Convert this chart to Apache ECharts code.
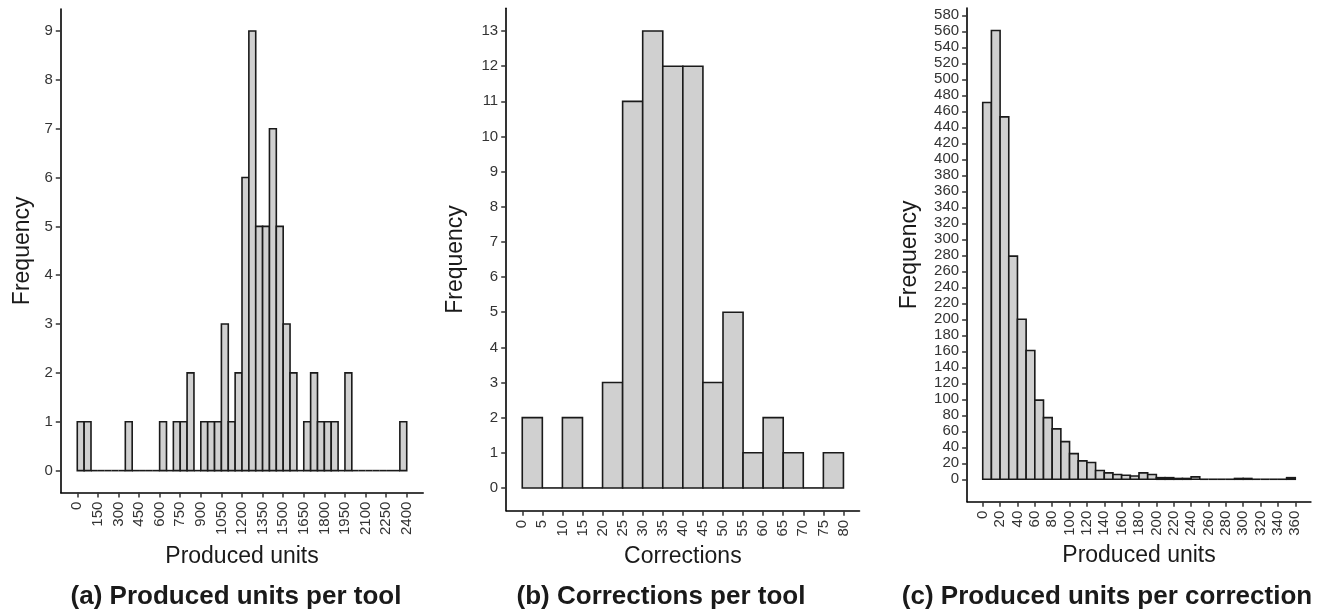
<!DOCTYPE html>
<html>
<head>
<meta charset="utf-8">
<script src="https://cdn.jsdelivr.net/npm/echarts@6/dist/echarts.min.js"></script>
<style>
  html, body { margin: 0; padding: 0; background: #ffffff; }
  #chart { width: 1322px; height: 613px; }
</style>
</head>
<body>
<div id="chart"></div>
<script>
// Histogram (a): produced units per tool, bins of 50 units
const binWidthA = 50;
const countsA = [1, 1, 0, 0, 0, 0, 0, 1, 0, 0,
                 0, 0, 1, 0, 1, 1, 2, 0, 1, 1,
                 1, 3, 1, 2, 6, 9, 5, 5, 7, 5,
                 3, 2, 0, 1, 2, 1, 1, 1, 0, 2,
                 0, 0, 0, 0, 0, 0, 0, 1];
const xTicksA = [0, 150, 300, 450, 600, 750, 900, 1050, 1200, 1350, 1500, 1650, 1800, 1950, 2100, 2250, 2400];
const yTicksA = [0, 1, 2, 3, 4, 5, 6, 7, 8, 9];

// Histogram (b): corrections per tool, bins of 5
const binWidthB = 5;
const countsB = [2, 0, 2, 0, 3, 11, 13, 12, 12, 3, 5, 1, 2, 1, 0, 1];
const xTicksB = [0, 5, 10, 15, 20, 25, 30, 35, 40, 45, 50, 55, 60, 65, 70, 75, 80];
const yTicksB = [0, 1, 2, 3, 4, 5, 6, 7, 8, 9, 10, 11, 12, 13];

// Histogram (c): produced units per correction, bins of 10
const binWidthC = 10;
const countsC = [471, 561, 453, 279, 200, 161, 99, 77, 63, 47,
                 32, 23, 21, 11, 8, 6, 5, 4, 8, 6,
                 2, 2, 1, 1, 3, 0, 0, 0, 0, 1,
                 1, 0, 0, 0, 0, 2];
const xTicksC = [0, 20, 40, 60, 80, 100, 120, 140, 160, 180, 200, 220, 240, 260, 280, 300, 320, 340, 360];
const yTicksC = [0, 20, 40, 60, 80, 100, 120, 140, 160, 180, 200, 220, 240, 260, 280,
                 300, 320, 340, 360, 380, 400, 420, 440, 460, 480, 500, 520, 540, 560, 580];

const titles = ['(a) Produced units per tool', '(b) Corrections per tool', '(c) Produced units per correction'];
const xNames = ['Produced units', 'Corrections', 'Produced units'];
const yName = 'Frequency';

// [binStart, binEnd, count] rows for a custom bar renderer
function binsOf(counts, width) {
  return counts.map((c, i) => [i * width, (i + 1) * width, c]);
}

// 5% padding on each side of the data range
function padded(lo, hi) {
  const p = (hi - lo) * 0.05;
  return [lo - p, hi + p];
}

const FONT = 'Liberation Sans, Arial, Helvetica, sans-serif';
const TICK_COLOR = '#333333';
const LABEL_SIZE = 15;
const NAME_SIZE = 23;
const plainNumber = v => String(v);

function renderBin(params, api) {
  const top = api.coord([api.value(0), api.value(2)]);
  const base = api.coord([api.value(1), 0]);
  if (api.value(2) === 0) {
    return {
      type: 'line',
      shape: { x1: top[0], y1: base[1], x2: base[0], y2: base[1] },
      style: { stroke: '#1a1a1a', lineWidth: 1.6 }
    };
  }
  return {
    type: 'rect',
    shape: { x: top[0], y: top[1], width: base[0] - top[0], height: base[1] - top[1] },
    style: { fill: '#d0d0d0', stroke: '#1a1a1a', lineWidth: 1.6 }
  };
}

function xAxisOf(idx, range, ticks, name, gap) {
  return {
    type: 'value', gridIndex: idx, min: range[0], max: range[1],
    name: name, nameLocation: 'middle', nameGap: gap,
    nameTextStyle: { fontFamily: FONT, fontSize: NAME_SIZE, color: '#1a1a1a' },
    axisLine: { show: true, onZero: false, lineStyle: { color: '#000000', width: 1.6 } },
    axisTick: { show: true, customValues: ticks, length: 5, lineStyle: { color: TICK_COLOR, width: 1.5 } },
    axisLabel: { customValues: ticks, formatter: plainNumber, rotate: 90, margin: 9,
                 fontFamily: FONT, fontSize: LABEL_SIZE, color: TICK_COLOR },
    splitLine: { show: false }
  };
}

function yAxisOf(idx, range, ticks, gap) {
  return {
    type: 'value', gridIndex: idx, min: range[0], max: range[1],
    name: yName, nameLocation: 'middle', nameGap: gap,
    nameTextStyle: { fontFamily: FONT, fontSize: NAME_SIZE, color: '#1a1a1a' },
    axisLine: { show: true, onZero: false, lineStyle: { color: '#000000', width: 1.6 } },
    axisTick: { show: true, customValues: ticks, length: 5, lineStyle: { color: TICK_COLOR, width: 1.5 } },
    axisLabel: { customValues: ticks, formatter: plainNumber, margin: 8,
                 fontFamily: FONT, fontSize: LABEL_SIZE, color: TICK_COLOR },
    splitLine: { show: false }
  };
}

const xRangeA = padded(0, countsA.length * binWidthA);
const xRangeB = padded(0, countsB.length * binWidthB);
const xRangeC = padded(0, countsC.length * binWidthC);
const yRangeA = padded(0, Math.max(...countsA));
const yRangeB = padded(0, Math.max(...countsB));
const yRangeC = padded(0, Math.max(...countsC));

const chart = echarts.init(document.getElementById('chart'), null, { renderer: 'canvas' });

const titleFont = 'bold 26px ' + FONT;

chart.setOption({
  animation: false,
  backgroundColor: '#ffffff',
  grid: [
    { left: 60.8, right: 898.8, top: 9, bottom: 120.4 },
    { left: 506.2, right: 462.5, top: 8.2, bottom: 102.2 },
    { left: 967.1, right: 11.1, top: 8.1, bottom: 111.3 }
  ],
  xAxis: [
    xAxisOf(0, xRangeA, xTicksA, xNames[0], 53),
    xAxisOf(1, xRangeB, xTicksB, xNames[1], 34),
    xAxisOf(2, xRangeC, xTicksC, xNames[2], 42)
  ],
  yAxis: [
    yAxisOf(0, yRangeA, yTicksA, 27),
    yAxisOf(1, yRangeB, yTicksB, 39),
    yAxisOf(2, yRangeC, yTicksC, 46)
  ],
  series: [
    { type: 'custom', xAxisIndex: 0, yAxisIndex: 0, renderItem: renderBin, data: binsOf(countsA, binWidthA), encode: { x: [0, 1], y: 2 }, clip: false },
    { type: 'custom', xAxisIndex: 1, yAxisIndex: 1, renderItem: renderBin, data: binsOf(countsB, binWidthB), encode: { x: [0, 1], y: 2 }, clip: false },
    { type: 'custom', xAxisIndex: 2, yAxisIndex: 2, renderItem: renderBin, data: binsOf(countsC, binWidthC), encode: { x: [0, 1], y: 2 }, clip: false }
  ],
  graphic: [
    { type: 'text', x: 236, y: 597, style: { text: titles[0], font: titleFont, fill: '#1a1a1a', align: 'center', verticalAlign: 'middle' } },
    { type: 'text', x: 661, y: 597, style: { text: titles[1], font: titleFont, fill: '#1a1a1a', align: 'center', verticalAlign: 'middle' } },
    { type: 'text', x: 1107, y: 597, style: { text: titles[2], font: titleFont, fill: '#1a1a1a', align: 'center', verticalAlign: 'middle' } }
  ]
});
</script>
</body>
</html>
